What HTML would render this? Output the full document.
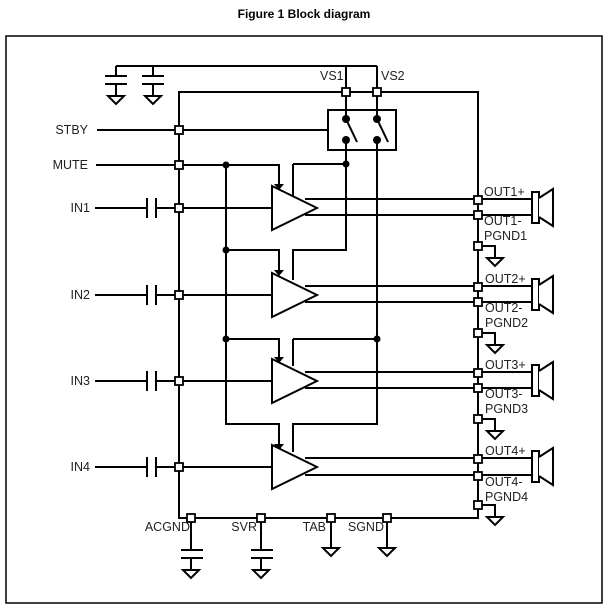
<!DOCTYPE html>
<html><head><meta charset="utf-8"><style>
body{margin:0;background:#fff}
svg{display:block}
text{font-family:"Liberation Sans",Arial,sans-serif;font-size:12.5px;fill:#222}
</style></head><body>
<svg width="609" height="609" viewBox="0 0 609 609" xmlns="http://www.w3.org/2000/svg">
<defs>
<g id="gnd"><path d="M-8 0 L8 0 L0 8 Z" fill="#fff" stroke="#000" stroke-width="2"/></g>
<g id="sq"><rect x="-4" y="-4" width="8" height="8" fill="#fff" stroke="#000" stroke-width="1.8"/></g>
<g id="spk"><rect x="0" y="-15" width="7" height="31" fill="#fff" stroke="#000" stroke-width="2"/><path d="M7 -9 L21 -18 L21 19 L7 10" fill="#fff" stroke="#000" stroke-width="2"/></g>
</defs>
<text x="304" y="18" text-anchor="middle" style="font-weight:bold;font-size:12px;fill:#000">Figure 1 Block diagram</text>
<rect x="6" y="36" width="596" height="567" fill="none" stroke="#000" stroke-width="1.5"/>
<g stroke="#000" stroke-width="2" fill="none">
<path d="M116 66 H377"/>
<path d="M116 66 V76 M105 76 H127 M105 84 H127 M116 84 V96"/>
<path d="M153 66 V76 M142 76 H164 M142 84 H164 M153 84 V96"/>
<path d="M346 66 V119 M377 66 V119"/>
<path d="M179 92 H478 V518 H179 Z"/>
<rect x="328" y="110" width="68" height="40"/>
<path d="M346 119 L357 142 M377 119 L388 142"/>
<path d="M346 140 V250 H293 V280 M377 140 V424 H293 V452"/>
<path d="M293 164 H346 M293 164 V196 M293 339 H377 M293 339 V366"/>
<path d="M97 130 H328 M96 165 H279 V184"/>
<path d="M226 165 V424 H279 V444 M226 250 H279 V270 M226 339 H279 V357"/>
<path d="M95 208 H147 M156 208 H272 M147 198 V218 M156 198 V218"/>
<path d="M95 295 H147 M156 295 H272 M147 285 V305 M156 285 V305"/>
<path d="M95 381 H147 M156 381 H272 M147 371 V391 M156 371 V391"/>
<path d="M95 467 H147 M156 467 H272 M147 457 V477 M156 457 V477"/>
<path d="M305 199 H532 M305 215 H532 M305 286 H532 M305 302 H532 M305 372 H532 M305 388 H532 M305 458 H532 M305 475 H532"/>
<path d="M478 246 H495 V258 M478 333 H495 V345 M478 419 H495 V431 M478 505 H495 V517"/>
<path d="M191 518 V550 M181 550 H203 M181 558 H203 M191 558 V570"/>
<path d="M261 518 V550 M251 550 H273 M251 558 H273 M261 558 V570"/>
<path d="M331 518 V548 M387 518 V548"/>
</g>
<g fill="#000">
<path d="M274 184 L284 184 L279 190 Z M274 270 L284 270 L279 276 Z M274 357 L284 357 L279 363 Z M274 444 L284 444 L279 450 Z"/>
<circle cx="346" cy="119" r="4"/><circle cx="346" cy="140" r="4"/><circle cx="377" cy="119" r="4"/><circle cx="377" cy="140" r="4"/>
<circle cx="346" cy="164" r="3.5"/><circle cx="226" cy="165" r="3.5"/><circle cx="226" cy="250" r="3.5"/><circle cx="226" cy="339" r="3.5"/><circle cx="377" cy="339" r="3.5"/>
</g>
<g fill="#fff" stroke="#000" stroke-width="2">
<path d="M272 186 L317 208 L272 230 Z"/>
<path d="M272 273 L317 295 L272 317 Z"/>
<path d="M272 359 L317 381 L272 403 Z"/>
<path d="M272 445 L317 467 L272 489 Z"/>
</g>
<use href="#gnd" x="116" y="96"/><use href="#gnd" x="153" y="96"/>
<use href="#gnd" x="495" y="258"/><use href="#gnd" x="495" y="345"/><use href="#gnd" x="495" y="431"/><use href="#gnd" x="495" y="517"/>
<use href="#gnd" x="191" y="570"/><use href="#gnd" x="261" y="570"/><use href="#gnd" x="331" y="548"/><use href="#gnd" x="387" y="548"/>
<use href="#spk" x="532" y="207"/><use href="#spk" x="532" y="294"/><use href="#spk" x="532" y="380"/><use href="#spk" x="532" y="466"/>
<use href="#sq" x="346" y="92"/><use href="#sq" x="377" y="92"/>
<use href="#sq" x="179" y="130"/><use href="#sq" x="179" y="165"/><use href="#sq" x="179" y="208"/><use href="#sq" x="179" y="295"/><use href="#sq" x="179" y="381"/><use href="#sq" x="179" y="467"/>
<use href="#sq" x="478" y="200"/><use href="#sq" x="478" y="215"/><use href="#sq" x="478" y="246"/>
<use href="#sq" x="478" y="287"/><use href="#sq" x="478" y="302"/><use href="#sq" x="478" y="333"/>
<use href="#sq" x="478" y="373"/><use href="#sq" x="478" y="388"/><use href="#sq" x="478" y="419"/>
<use href="#sq" x="478" y="459"/><use href="#sq" x="478" y="476"/><use href="#sq" x="478" y="505"/>
<use href="#sq" x="191" y="518"/><use href="#sq" x="261" y="518"/><use href="#sq" x="331" y="518"/><use href="#sq" x="387" y="518"/>
<text x="320" y="80">VS1</text><text x="381" y="80">VS2</text>
<text x="88" y="134" text-anchor="end">STBY</text>
<text x="88" y="169" text-anchor="end">MUTE</text>
<text x="90" y="212" text-anchor="end">IN1</text>
<text x="90" y="299" text-anchor="end">IN2</text>
<text x="90" y="385" text-anchor="end">IN3</text>
<text x="90" y="471" text-anchor="end">IN4</text>
<text x="484" y="196">OUT1+</text><text x="484" y="225">OUT1-</text><text x="484" y="240">PGND1</text>
<text x="485" y="283">OUT2+</text><text x="485" y="312">OUT2-</text><text x="485" y="327">PGND2</text>
<text x="485" y="369">OUT3+</text><text x="485" y="398">OUT3-</text><text x="485" y="413">PGND3</text>
<text x="485" y="455">OUT4+</text><text x="485" y="486">OUT4-</text><text x="485" y="501">PGND4</text>
<text x="190" y="531" text-anchor="end">ACGND</text>
<text x="257" y="531" text-anchor="end">SVR</text>
<text x="326" y="531" text-anchor="end">TAB</text>
<text x="384" y="531" text-anchor="end">SGND</text>
</svg>
</body></html>
